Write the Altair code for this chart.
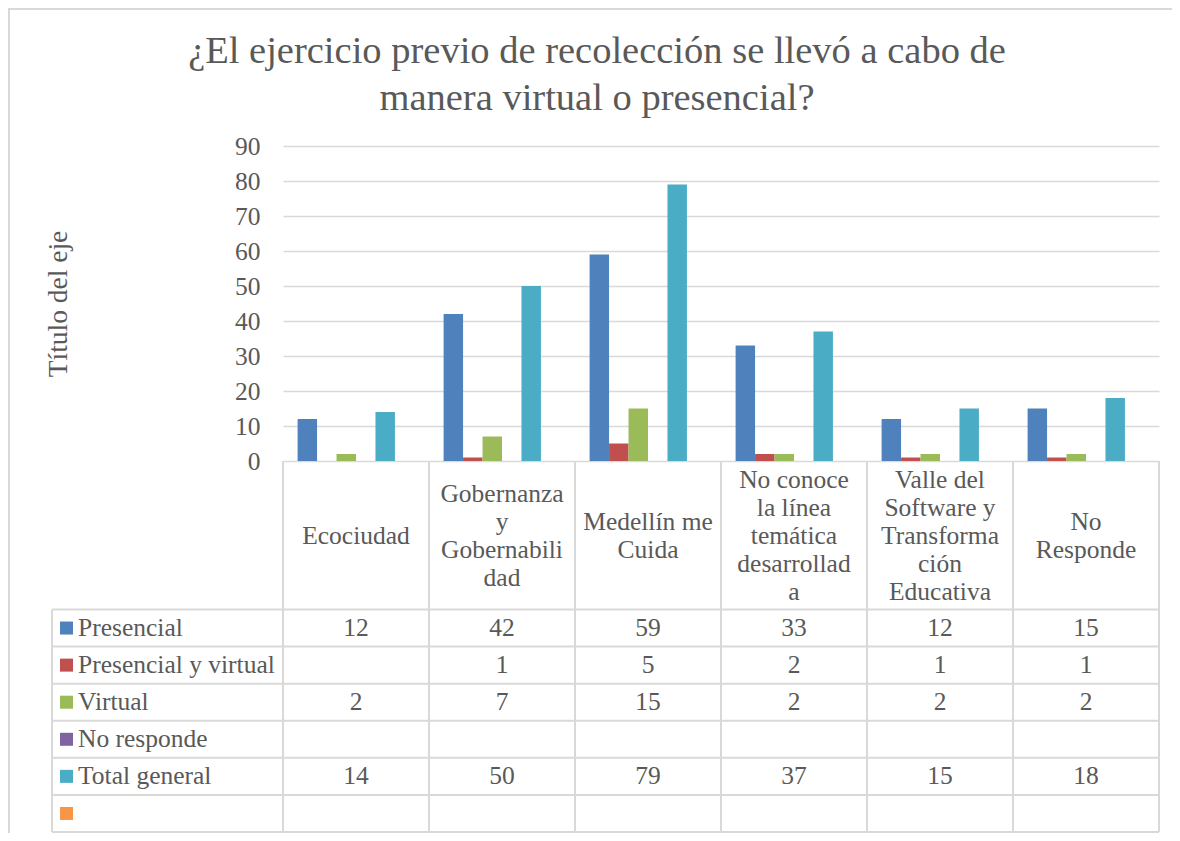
import altair as alt
import pandas as pd

# ---------------- data ----------------
categorias = [
    "Ecociudad",
    "Gobernanza y Gobernabilidad",
    "Medellín me Cuida",
    "No conoce la línea temática desarrollada",
    "Valle del Software y Transformación Educativa",
    "No Responde",
]
etiquetas_cat = [
    ["Ecociudad"],
    ["Gobernanza", "y", "Gobernabili", "dad"],
    ["Medellín me", "Cuida"],
    ["No conoce", "la línea", "temática", "desarrollad", "a"],
    ["Valle del", "Software y", "Transforma", "ción", "Educativa"],
    ["No", "Responde"],
]
series = ["Presencial", "Presencial y virtual", "Virtual", "No responde", "Total general", ""]
colores = ["#4F81BD", "#C0504D", "#9BBB59", "#8064A2", "#4BACC6", "#F79646"]

presencial = [12, 42, 59, 33, 12, 15]
presencial_virtual = [None, 1, 5, 2, 1, 1]
virtual = [2, 7, 15, 2, 2, 2]
no_responde = [None, None, None, None, None, None]
total_general = [14, 50, 79, 37, 15, 18]
sin_nombre = [None, None, None, None, None, None]
ticks_y = [0, 10, 20, 30, 40, 50, 60, 70, 80, 90]

valores = [presencial, presencial_virtual, virtual, no_responde, total_general, sin_nombre]

rows = []
for s, vals in zip(series, valores):
    for c, v in zip(categorias, vals):
        if v is not None:
            rows.append({"serie": s, "categoria": c, "valor": v})
df = pd.DataFrame(rows)
df_series = pd.DataFrame({"serie": series})
df_cats = pd.DataFrame({"categoria": categorias})
# one row per wrapped line of each category name, with its position in the block
lineas = []
for c, partes in zip(categorias, etiquetas_cat):
    n = len(partes)
    for i, p in enumerate(partes):
        lineas.append({"categoria": c, "texto": p, "linea": i - (n - 1) / 2})
df_lineas = pd.DataFrame(lineas)
df_one = pd.DataFrame({"k": [0]})

# ---------------- style ----------------
FONT = "Liberation Serif"
TXT = "#595959"
LINE = "#D9D9D9"
FS = 25.5

W, H = 876, 315
ROW_RANGE = [463.5, 686]
HEADER_MID = 390
LH = 28

xscale = alt.Scale(type="band", domain=categorias, paddingInner=0, paddingOuter=0)
yrow = alt.Scale(type="band", domain=series, range=ROW_RANGE, paddingInner=0, paddingOuter=0)
yhead = alt.Scale(type="linear", domain=[-1, 1], range=[HEADER_MID - LH, HEADER_MID + LH])
cscale = alt.Scale(domain=series, range=colores)

bars = alt.Chart(df).mark_bar().encode(
    x=alt.X(
        "categoria:N",
        scale=xscale,
        title=None,
        axis=alt.Axis(
            labels=False,
            ticks=False,
            domain=True,
            domainColor=LINE,
            domainWidth=2,
            grid=False,
        ),
    ),
    xOffset=alt.XOffset(
        "serie:N", scale=alt.Scale(domain=series, paddingInner=0, paddingOuter=0.75)
    ),
    y=alt.Y(
        "valor:Q",
        scale=alt.Scale(domain=[0, 90]),
        title="Título del eje",
        axis=alt.Axis(
            values=ticks_y,
            grid=True,
            gridColor=LINE,
            gridWidth=1.5,
            domain=False,
            ticks=False,
            labelFont=FONT,
            labelFontSize=FS,
            labelColor=TXT,
            labelPadding=23,
            titleFont=FONT,
            titleFontSize=27.5,
            titleFontWeight="normal",
            titleColor=TXT,
            titleAngle=270,
            titleAlign="center",
            titleBaseline="middle",
            titleX=-225,
            titleY=157.5,
        ),
    ),
    color=alt.Color("serie:N", scale=cscale, legend=None),
)

# header row: category names (wrapped as in the reference), centred vertically
encabezado = alt.Chart(df_lineas).mark_text(
    font=FONT, fontSize=FS, color=TXT, align="center", baseline="middle",
).encode(
    x=alt.X("categoria:N", scale=xscale, axis=None, bandPosition=0.5),
    y=alt.Y("linea:Q", scale=yhead, axis=None),
    text="texto:N",
)

# table values
tabla = alt.Chart(df).mark_text(font=FONT, fontSize=FS, color=TXT, baseline="middle").encode(
    x=alt.X("categoria:N", scale=xscale, axis=None, bandPosition=0.5),
    y=alt.Y("serie:N", scale=yrow, axis=None, bandPosition=0.5),
    text=alt.Text("valor:Q", format="d"),
)

# row labels (left column)
filas_txt = alt.Chart(df_series).mark_text(
    font=FONT, fontSize=FS, color=TXT, align="left", baseline="middle"
).encode(
    x=alt.value(-205),
    y=alt.Y("serie:N", scale=yrow, axis=None, bandPosition=0.5),
    text="serie:N",
)

filas_sq = alt.Chart(df_series).mark_square(size=169, opacity=1).encode(
    x=alt.value(-216.5),
    y=alt.Y("serie:N", scale=yrow, axis=None, bandPosition=0.5),
    color=alt.Color("serie:N", scale=cscale, legend=None),
)

# table grid lines
lin_h = alt.Chart(df_series).mark_rule(color=LINE, strokeWidth=2).encode(
    y=alt.Y("serie:N", scale=yrow, axis=None, bandPosition=0),
    x=alt.value(-231),
    x2=alt.value(W),
)
lin_h_fin = alt.Chart(df_series.tail(1)).mark_rule(color=LINE, strokeWidth=2).encode(
    y=alt.Y("serie:N", scale=yrow, axis=None, bandPosition=1),
    x=alt.value(-231),
    x2=alt.value(W),
)
lin_v = alt.Chart(df_cats).mark_rule(color=LINE, strokeWidth=2).encode(
    x=alt.X("categoria:N", scale=xscale, axis=None, bandPosition=0),
    y=alt.value(H),
    y2=alt.value(ROW_RANGE[1]),
)
lin_v_fin = alt.Chart(df_cats.tail(1)).mark_rule(color=LINE, strokeWidth=2).encode(
    x=alt.X("categoria:N", scale=xscale, axis=None, bandPosition=1),
    y=alt.value(H),
    y2=alt.value(ROW_RANGE[1]),
)
lin_izq = alt.Chart(df_one).mark_rule(color=LINE, strokeWidth=2).encode(
    x=alt.value(-231),
    y=alt.value(ROW_RANGE[0]),
    y2=alt.value(ROW_RANGE[1]),
)

# outer frame (top and left edges)
marco_top = alt.Chart(df_one).mark_rule(color=LINE, strokeWidth=2).encode(
    y=alt.value(-137), x=alt.value(-275), x2=alt.value(900)
)
marco_izq = alt.Chart(df_one).mark_rule(color=LINE, strokeWidth=2).encode(
    x=alt.value(-274), y=alt.value(-137), y2=alt.value(700)
)

chart = (
    alt.layer(
        marco_top, marco_izq, lin_h, lin_h_fin, lin_v, lin_v_fin, lin_izq,
        bars, encabezado, tabla, filas_sq, filas_txt,
    )
    .resolve_scale(y="independent")
    .properties(
        width=W,
        height=H,
        title=alt.TitleParams(
            text=[
                "¿El ejercicio previo de recolección se llevó a cabo de",
                "manera virtual o presencial?",
            ],
            font=FONT,
            fontSize=38.5,
            fontWeight="normal",
            color=TXT,
            lineHeight=47,
            anchor="middle",
            frame="group",
            dx=-124,
            offset=-110,
        ),
        padding={"left": 275, "top": 138, "right": 13, "bottom": 372},
        autosize=alt.AutoSizeParams(type="none"),
    )
    .configure_view(stroke=None)
)

chart.save("out.html", embed_options={"renderer": "svg", "actions": False})
